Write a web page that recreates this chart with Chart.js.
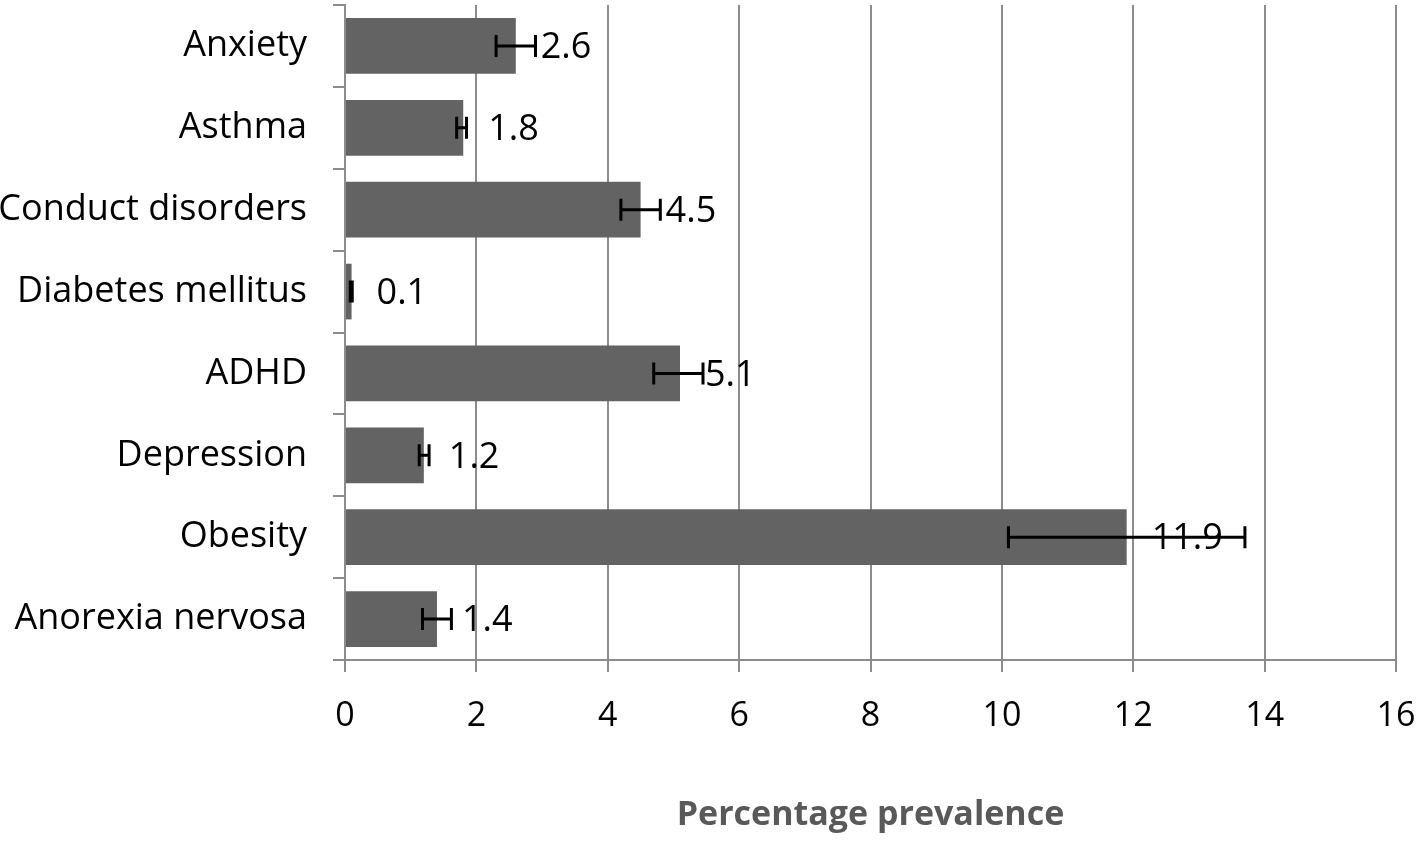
<!DOCTYPE html>
<html>
<head>
<meta charset="utf-8">
<script src="https://cdn.jsdelivr.net/npm/chart.js@4"></script>
<style>
  html, body { margin: 0; padding: 0; background: #fff; }
  #wrap { width: 1421px; height: 842px; }
</style>
</head>
<body>
<div id="wrap"><canvas id="chart"></canvas></div>
<script>
// data
const categories = ["Anxiety", "Asthma", "Conduct disorders", "Diabetes mellitus",
                    "ADHD", "Depression", "Obesity", "Anorexia nervosa"];
const prevalence = [2.6, 1.8, 4.5, 0.1, 5.1, 1.2, 11.9, 1.4];
const errLow  = [2.3, 1.7, 4.2, 0.08, 4.7, 1.13, 10.1, 1.18];
const errHigh = [2.9, 1.85, 4.8, 0.11, 5.45, 1.28, 13.7, 1.62];
const xTicks = [0, 2, 4, 6, 8, 10, 12, 14, 16];

const FONT = "'Open Sans', sans-serif";
const GRID = "#8c8c8c";

// error bars + value labels
const extras = {
  id: "extras",
  afterDatasetsDraw(chart) {
    const ctx = chart.ctx;
    const x = chart.scales.x;
    const meta = chart.getDatasetMeta(0);
    ctx.save();
    meta.data.forEach((bar, i) => {
      const y = bar.y;
      // label
      ctx.fillStyle = "#000";
      ctx.font = "36px " + FONT;
      ctx.textAlign = "left";
      ctx.textBaseline = "middle";
      ctx.fillText(String(prevalence[i]), bar.x + 25, y + 2);
      // error bar
      const x0 = x.getPixelForValue(errLow[i]);
      const x1 = x.getPixelForValue(errHigh[i]);
      ctx.strokeStyle = "#000";
      ctx.lineWidth = 3;
      ctx.beginPath();
      ctx.moveTo(x0, y); ctx.lineTo(x1, y);
      ctx.moveTo(x0, y - 11); ctx.lineTo(x0, y + 11);
      ctx.moveTo(x1, y - 11); ctx.lineTo(x1, y + 11);
      ctx.stroke();
    });
    ctx.restore();
  }
};

new Chart(document.getElementById("chart"), {
  type: "bar",
  data: {
    labels: categories,
    datasets: [{
      data: prevalence,
      backgroundColor: "#636363",
      barPercentage: 0.68,
      categoryPercentage: 1.0
    }]
  },
  options: {
    indexAxis: "y",
    responsive: true,
    maintainAspectRatio: false,
    animation: false,
    layout: { padding: { top: 5, right: 25, bottom: 0, left: 0 } },
    plugins: { legend: { display: false }, tooltip: { enabled: false } },
    scales: {
      x: {
        min: 0, max: 16,
        afterBuildTicks: s => { s.ticks = xTicks.map(v => ({ value: v })); },
        afterFit: s => { s.height = 182; s.paddingLeft = 0; s.paddingRight = 0; },
        grid: { color: GRID, lineWidth: 2, tickLength: 12 },
        border: { color: GRID, width: 2 },
        ticks: { color: "#000", font: { family: FONT, size: 34 }, padding: 24 },
        title: {
          display: true, text: "Percentage prevalence", color: "#595959",
          font: { family: FONT, size: 34, weight: "bold" },
          padding: { top: 0, bottom: 6 }
        }
      },
      y: {
        afterFit: s => { s.width = 345; s.paddingTop = 0; s.paddingBottom = 0; },
        grid: { drawOnChartArea: false, color: GRID, lineWidth: 2, tickLength: 12, offset: true },
        border: { color: GRID, width: 2 },
        ticks: { color: "#000", font: { family: FONT, size: 36 }, padding: 26 }
      }
    }
  },
  plugins: [extras]
});
</script>
</body>
</html>
